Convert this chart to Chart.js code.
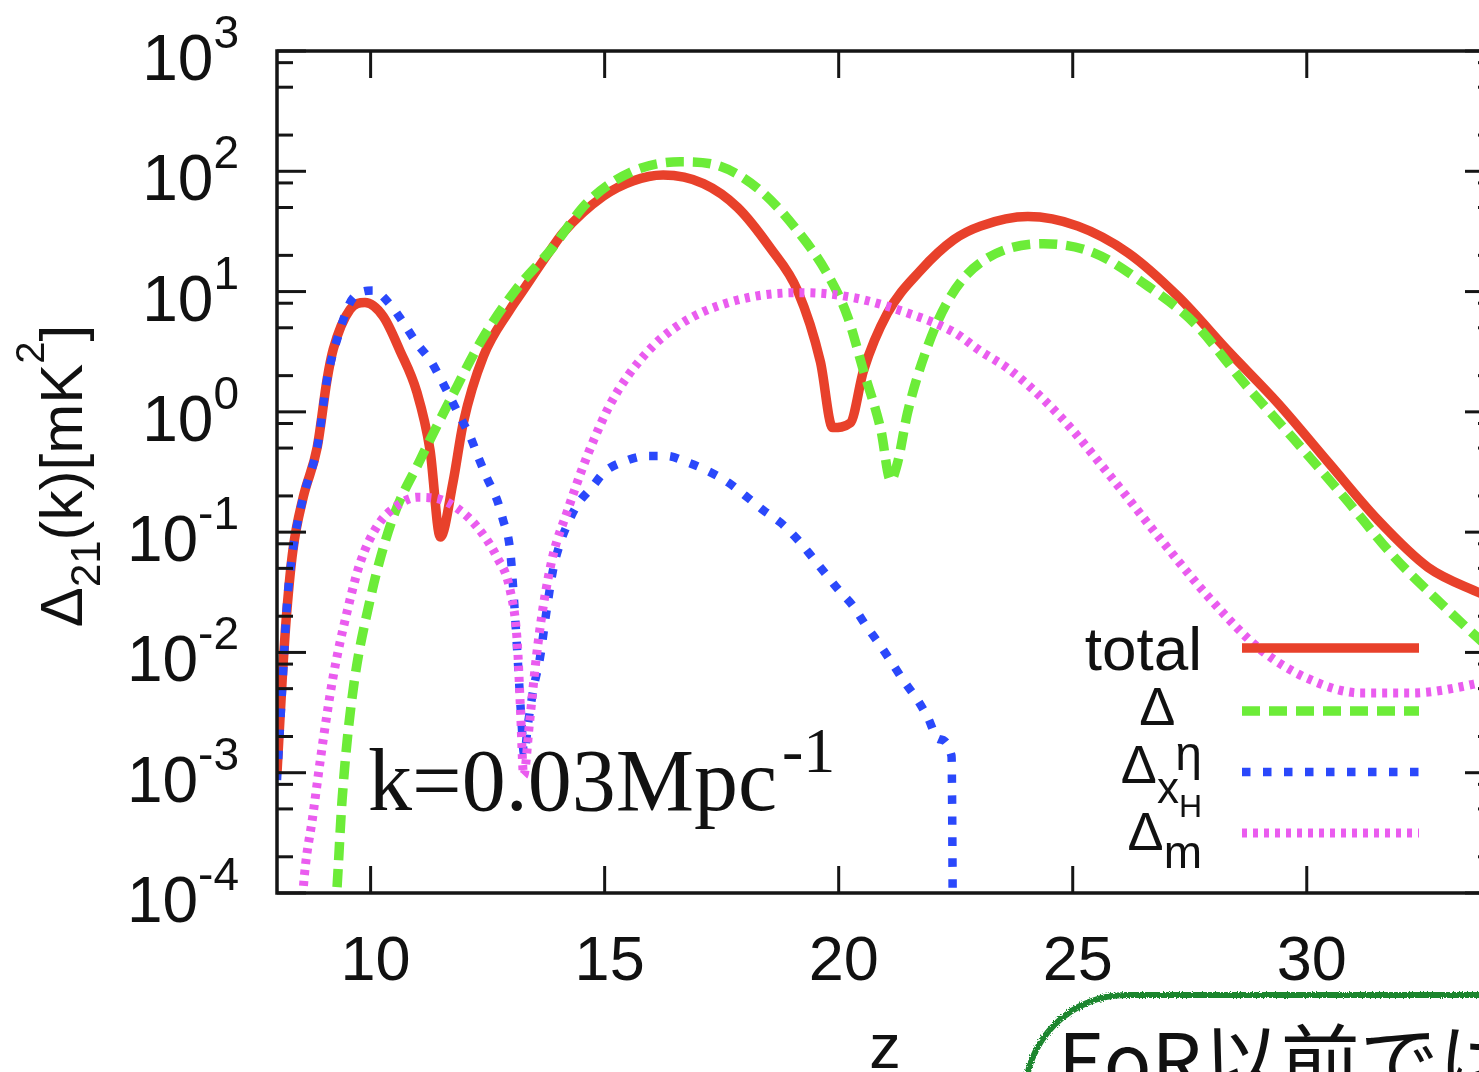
<!DOCTYPE html>
<html>
<head>
<meta charset="utf-8">
<title>21cm power spectrum components</title>
<script src="https://cdn.jsdelivr.net/npm/chart.js@4.4.1/dist/chart.umd.min.js"></script>
<style>
  html, body { margin: 0; padding: 0; background: #fff; overflow: hidden; width: 1479px; height: 1072px; }
  #plot { position: absolute; left: 0; top: 0; }
  #note {
    position: absolute; left: 1022px; top: 992px; width: 700px; height: 300px;
    box-sizing: border-box; background: #fff;
    border: 6px solid #1a862e; border-radius: 104px 0 0 0;
    filter: url(#rough);
  }
  #noteText {
    position: absolute; left: 1058px; top: 1017px;
    font-family: "Noto Sans CJK JP", sans-serif; font-size: 79px; line-height: 1;
    color: #111; white-space: nowrap;
  }
</style>
</head>
<body>
<svg width="0" height="0" style="position:absolute">
  <filter id="rough">
    <feTurbulence type="fractalNoise" baseFrequency="0.7" numOctaves="2" result="noise"/>
    <feDisplacementMap in="SourceGraphic" in2="noise" scale="4"/>
  </filter>
</svg>
<canvas id="plot" width="1540" height="1072"></canvas>
<div id="note"></div>
<div id="noteText">EoR以前では</div>
<script>
// redshift axis
const xTicks = [10, 15, 20, 25, 30];
// decades on the log axis, 10^-4 .. 10^3
const yTickExps = [-4, -3, -2, -1, 0, 1, 2, 3];
const yMinorMults = [2, 5, 8];

// total
const totalZ = [8.0, 8.11, 8.21, 8.34, 8.56, 8.86, 9.07, 9.2, 9.56, 9.88, 10.27, 10.63, 10.99, 11.27, 11.49,
  11.76, 11.98, 12.41, 12.98, 13.2, 13.84, 14.12, 14.97, 15.6, 16.25, 17.11, 17.84, 18.54, 19.12, 19.61,
  19.87, 20.25, 20.53, 21.04, 21.75, 22.46, 23.03, 24.04, 25.11, 26.18, 27.25, 28.32, 29.39, 30.46, 31.52,
  32.59, 33.71, 34.0];
const totalVal = [0.001, 0.0059, 0.022, 0.071, 0.195, 0.51, 1.86, 3.3, 7.1, 8.1, 6.2, 3.2, 1.45, 0.48, 0.091,
  0.26, 0.81, 2.9, 7.1, 9.5, 22, 31, 62, 83, 93, 79, 50, 23, 10.2, 2.6,
  0.74, 0.81, 2.2, 6.6, 15, 27, 35, 42, 35, 21, 9.1, 3.2, 1.17, 0.38, 0.126,
  0.051, 0.031, 0.0275];

// Delta_eta
const etaZ = [9.2, 9.28, 9.39, 9.6, 9.99, 10.46, 11.06, 11.7, 12.38, 13.09, 13.84,
  14.63, 15.55, 16.62, 17.47, 18.33, 19.12, 19.76, 20.19, 20.53, 20.9, 21.11, 21.26, 21.47, 21.9, 22.39,
  23.03, 24.38, 25.45, 26.52, 27.59, 28.66, 29.73, 30.8, 31.87, 32.94, 33.71, 34.0];
const etaVal = [0.00004, 0.000107, 0.00059, 0.0041, 0.0275, 0.126, 0.4, 1.26, 4.0, 10.2, 22,
  55, 98, 120, 110, 69, 32, 14, 6.2, 2.2, 0.71, 0.27, 0.38, 0.98, 3.5, 9.1,
  17.4, 25, 21, 11.7, 5.5, 1.74, 0.59, 0.195, 0.062, 0.024, 0.0126, 0.01];

// Delta_xH
const xhZ = [8.0, 8.13, 8.21, 8.34, 8.56, 8.86, 9.07, 9.3, 9.63, 10.05, 10.42, 10.7, 10.99, 11.27, 11.49,
  11.7, 11.91, 12.13, 12.3, 12.49, 12.7, 12.83, 12.98, 13.07, 13.15, 13.22, 13.28, 13.36, 13.48, 13.62,
  13.75, 13.9, 14.05, 14.2, 14.42, 14.72, 15.01, 15.44, 15.89, 16.32, 16.77, 17.22, 17.65, 18.01, 18.4,
  18.76, 19.12, 19.42, 19.7, 20.0, 20.3, 20.57, 20.87, 21.11, 21.39, 21.69, 21.9, 22.14, 22.41, 22.46];
const xhVal = [0.00087, 0.0068, 0.024, 0.071, 0.195, 0.51, 1.86, 4.2, 8.9, 10.2, 7.8, 5.5, 3.7, 2.7, 1.9,
  1.32, 0.91, 0.62, 0.42, 0.28, 0.186, 0.126, 0.071, 0.025, 0.0079, 0.0028, 0.0014, 0.0025, 0.005, 0.0091,
  0.021, 0.049, 0.081, 0.115, 0.17, 0.234, 0.32, 0.39, 0.43, 0.43, 0.38, 0.32, 0.257, 0.2, 0.151,
  0.12, 0.087, 0.063, 0.046, 0.033, 0.0245, 0.017, 0.0117, 0.0085, 0.0058, 0.004, 0.0029, 0.0019, 0.00138, 0.000001];

// Delta_m
const mZ = [8.5, 8.56, 8.77, 8.98, 9.2, 9.5, 9.78, 10.14, 10.57, 10.99, 11.42, 11.85, 12.28, 12.7, 12.98,
  13.13, 13.2, 13.27, 13.39, 13.54, 13.69, 13.9, 14.2, 14.5, 14.78, 15.1, 15.5, 16.04, 16.5, 17.11, 18.18,
  19.25, 20.32, 21.39, 22.46, 23.03, 23.68, 24.74, 25.81, 26.88, 27.95, 29.02, 30.09, 31.16, 32.23, 33.71, 34.0];
const mVal = [0.00004, 0.000107, 0.00045, 0.0018, 0.0063, 0.022, 0.056, 0.112, 0.166, 0.195, 0.19, 0.158, 0.11, 0.062, 0.033,
  0.0126, 0.0035, 0.00095, 0.0025, 0.0091, 0.0245, 0.065, 0.148, 0.32, 0.6, 1.12, 2.0, 3.55, 5.0, 6.8, 9.1,
  9.8, 8.9, 6.8, 4.6, 3.2, 2.2, 0.91, 0.29, 0.087, 0.0275, 0.0105, 0.0059, 0.0046, 0.0046, 0.0056, 0.006];

const pts = (zs, vs) => zs.map((z, i) => ({ x: z, y: vs[i] }));

const SANS = '"Liberation Sans", Arial, sans-serif';
const SERIF = '"Liberation Serif", "Times New Roman", serif';

// draw a run of [text, size, baselineShift] pieces starting at x
function runWidth(ctx, pieces, family) {
  let w = 0;
  pieces.forEach(([t, s]) => { ctx.font = s + 'px ' + family; w += ctx.measureText(t).width; });
  return w;
}
function drawRun(ctx, pieces, x, base, family) {
  pieces.forEach(([t, s, dy]) => {
    ctx.font = s + 'px ' + family;
    ctx.fillText(t, x, base + dy);
    x += ctx.measureText(t).width;
  });
  return x;
}

// legend rows: sample line centre and rich label
const legendRows = [
  { y: 648, base: 670, pieces: [['total', 62, 0]] },
  { y: 711, base: 725, pieces: [['Δ', 54, 0], ['η', 48, 45]] },
  { y: 772, base: 783, pieces: [['Δ', 54, 0], ['x', 44, 20], ['H', 32, 34]] },
  { y: 833, base: 850, pieces: [['Δ', 54, 0], ['m', 46, 18]] }
];

const gnuplotFrame = {
  id: 'gnuplotFrame',
  afterDatasetsDraw(chart) {
    const { ctx, chartArea: a, scales: { x, y } } = chart;
    ctx.save();
    ctx.strokeStyle = '#151515';
    ctx.fillStyle = '#111';
    ctx.lineCap = 'butt';

    const seg = (x1, y1, x2, y2) => { ctx.beginPath(); ctx.moveTo(x1, y1); ctx.lineTo(x2, y2); ctx.stroke(); };

    // ticks (inward, mirrored)
    ctx.lineWidth = 3;
    xTicks.forEach(v => {
      const px = x.getPixelForValue(v);
      seg(px, a.bottom, px, a.bottom - 27);
      seg(px, a.top, px, a.top + 27);
    });
    yTickExps.forEach(e => {
      const py = y.getPixelForValue(Math.pow(10, e));
      seg(a.left, py, a.left + 29, py);
      seg(a.right, py, a.right - 29, py);
      if (e < 3) {
        yMinorMults.forEach(m => {
          const pm = y.getPixelForValue(m * Math.pow(10, e));
          seg(a.left, pm, a.left + 16, pm);
          seg(a.right, pm, a.right - 16, pm);
        });
      }
    });

    // border
    ctx.lineWidth = 3.5;
    ctx.strokeRect(a.left, a.top, a.right - a.left, a.bottom - a.top);

    // x tick labels
    ctx.textAlign = 'center';
    ctx.textBaseline = 'alphabetic';
    ctx.font = '63px ' + SANS;
    xTicks.forEach(v => ctx.fillText(String(v), x.getPixelForValue(v) + 5, 980));
    ctx.fillText('z', 885, 1068);

    // y tick labels 10^e, right aligned
    ctx.textAlign = 'left';
    yTickExps.forEach(e => {
      const py = y.getPixelForValue(Math.pow(10, e));
      const pieces = [['10', 64, 0], [String(e), 46, -32]];
      const w = runWidth(ctx, pieces, SANS);
      drawRun(ctx, pieces, 239 - w, py + 29, SANS);
    });

    // y axis title, rotated
    ctx.save();
    ctx.translate(82, 476);
    ctx.rotate(-Math.PI / 2);
    const title = [['Δ', 60, 0], ['21', 42, 18], ['(k)[mK', 60, 0], ['2', 40, -38], [']', 60, 0]];
    const tw = runWidth(ctx, title, SANS);
    drawRun(ctx, title, -tw / 2, 0, SANS);
    ctx.restore();

    // wavenumber note
    drawRun(ctx, [['k=0.03Mpc', 88, 0]], 368, 810, SERIF);
    drawRun(ctx, [['-1', 64, 0]], 782, 772, SERIF);

    // key
    chart.data.datasets.forEach((ds, i) => {
      const row = legendRows[i];
      const w = runWidth(ctx, row.pieces, SANS);
      drawRun(ctx, row.pieces, 1202 - w, row.base, SANS);
      ctx.save();
      ctx.strokeStyle = ds.borderColor;
      ctx.lineWidth = ds.borderWidth;
      ctx.setLineDash(ds.borderDash || []);
      seg(1242, row.y, 1419, row.y);
      ctx.restore();
    });

    ctx.restore();
  }
};

new Chart(document.getElementById('plot'), {
  type: 'line',
  data: {
    datasets: [
      { label: 'total', data: pts(totalZ, totalVal), borderColor: '#e8412b', borderWidth: 9.5, order: 4 },
      { label: 'Δη', data: pts(etaZ, etaVal), borderColor: '#6cec38', borderWidth: 9.5, borderDash: [18, 9], order: 3 },
      { label: 'ΔxH', data: pts(xhZ, xhVal), borderColor: '#2a48fb', borderWidth: 8.5, borderDash: [8.5, 12.5], order: 2 },
      { label: 'Δm', data: pts(mZ, mVal), borderColor: '#ea5cef', borderWidth: 9, borderDash: [5, 6], order: 1 }
    ]
  },
  options: {
    responsive: false,
    animation: false,
    events: [],
    layout: { padding: { left: 277, top: 51, right: 46, bottom: 179 } },
    elements: {
      point: { radius: 0 },
      line: { cubicInterpolationMode: 'monotone', borderCapStyle: 'butt', fill: false }
    },
    plugins: { legend: { display: false }, tooltip: { enabled: false } },
    scales: {
      x: { type: 'linear', min: 8, max: 34, display: false },
      y: { type: 'logarithmic', min: 1e-4, max: 1e3, display: false }
    }
  },
  plugins: [gnuplotFrame]
});
</script>
</body>
</html>
